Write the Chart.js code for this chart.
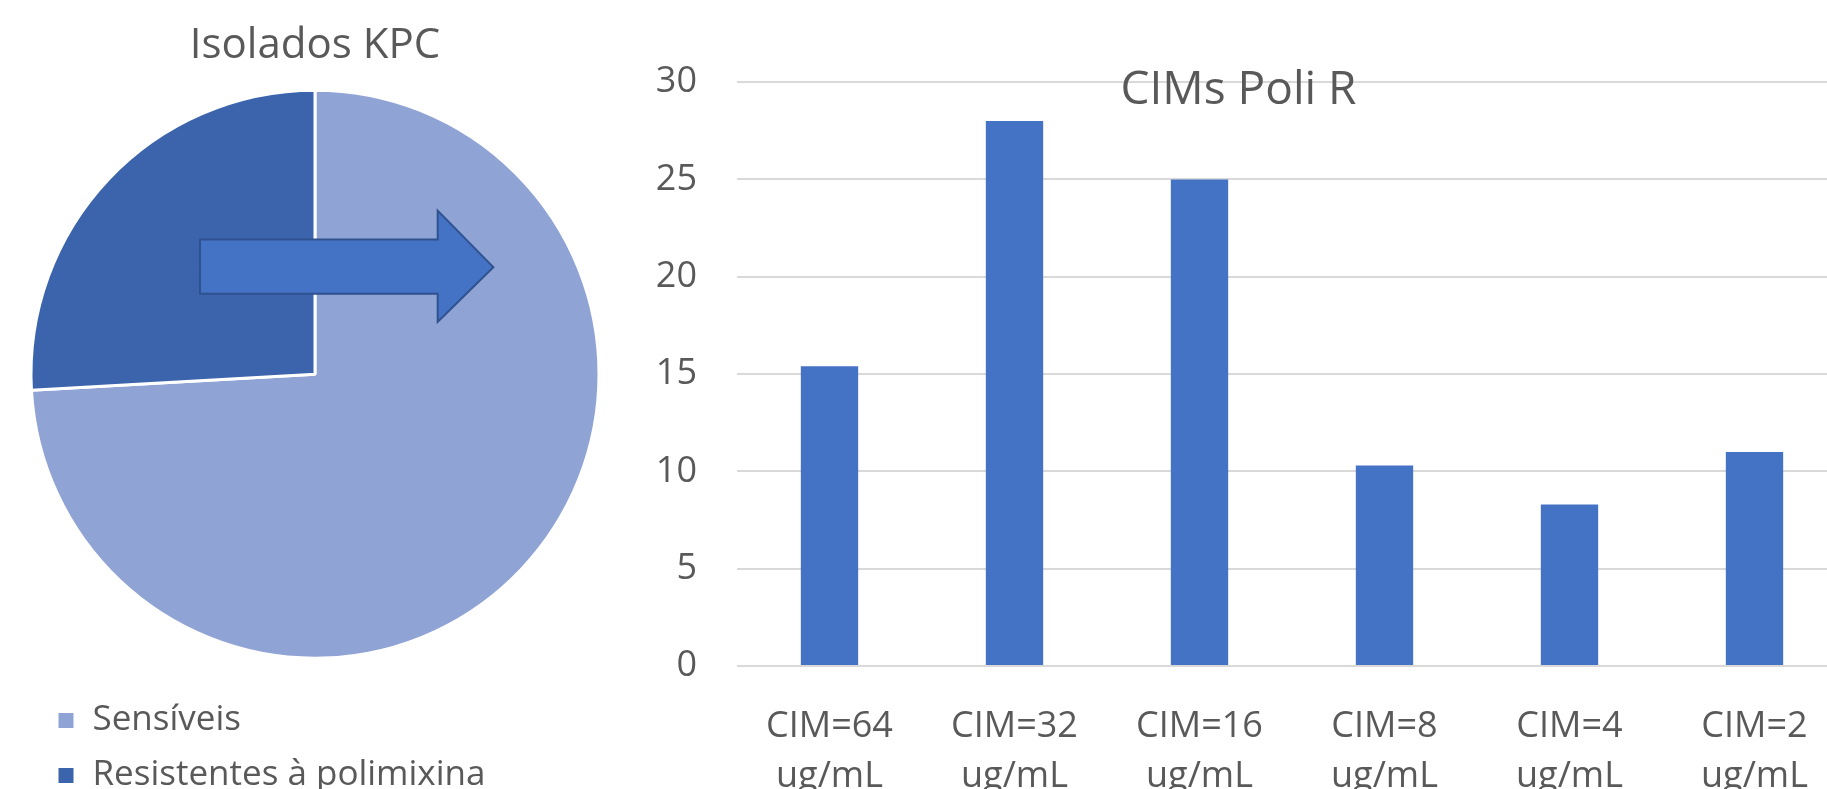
<!DOCTYPE html>
<html>
<head>
<meta charset="utf-8">
<script src="https://cdn.jsdelivr.net/npm/chart.js@4.4.0/dist/chart.umd.min.js"></script>
<style>
    html, body { margin: 0; padding: 0; background: #fff; overflow: hidden; }
    body { width: 1827px; height: 789px; position: relative; }
    #pieBox { position: absolute; left: 0; top: 0; width: 630px; height: 803px; }
    #barBox { position: absolute; left: 630px; top: 0; width: 1217px; height: 800px; }
</style>
</head>
<body>
<div id="pieBox"><canvas id="chartPie"></canvas></div>
<div id="barBox"><canvas id="chartBar"></canvas></div>
<script>
// torta
var pieLabels = ['Sensíveis', 'Resistentes à polimixina'];
var pieValues = [74.1, 25.9];
var pieColors = ['#8FA3D4', '#3C64AC'];

// barre
var barLabels = [['CIM=64', 'ug/mL'], ['CIM=32', 'ug/mL'], ['CIM=16', 'ug/mL'], ['CIM=8', 'ug/mL'], ['CIM=4', 'ug/mL'], ['CIM=2', 'ug/mL']];
var barValues = [15.4, 28, 25, 10.3, 8.3, 11];

var textColor = '#595959';
var fontName = "'Open Sans', 'Noto Sans', sans-serif";

Chart.defaults.font.family = fontName;
Chart.defaults.color = textColor;

// freccia sopra la torta, relativa al centro e al raggio
var arrowPlugin = {
    id: 'arrow',
    afterDatasetsDraw: function(chart) {
        var arc = chart.getDatasetMeta(0).data[0];
        if (!arc) return;
        var cx = arc.x, cy = arc.y, r = arc.outerRadius;
        var ctx = chart.ctx;
        ctx.save();
        ctx.beginPath();
        ctx.moveTo(cx - 0.405 * r, cy - 0.474 * r);
        ctx.lineTo(cx + 0.432 * r, cy - 0.474 * r);
        ctx.lineTo(cx + 0.432 * r, cy - 0.576 * r);
        ctx.lineTo(cx + 0.628 * r, cy - 0.377 * r);
        ctx.lineTo(cx + 0.432 * r, cy - 0.184 * r);
        ctx.lineTo(cx + 0.432 * r, cy - 0.283 * r);
        ctx.lineTo(cx - 0.405 * r, cy - 0.283 * r);
        ctx.closePath();
        ctx.fillStyle = '#4472C4';
        ctx.fill();
        ctx.lineWidth = 2;
        ctx.strokeStyle = '#2F528F';
        ctx.stroke();
        ctx.restore();
    }
};

var ctxPie = document.getElementById('chartPie').getContext('2d');
var pieChart = new Chart(ctxPie, {
    type: 'pie',
    data: {
        labels: pieLabels,
        datasets: [{
            data: pieValues,
            backgroundColor: pieColors,
            borderColor: '#ffffff',
            borderWidth: 3,
            clip: false
        }]
    },
    options: {
        responsive: true,
        maintainAspectRatio: false,
        animation: false,
        radius: 284,
        layout: { padding: { left: 37, right: 37, top: 0, bottom: 0 } },
        plugins: {
            title: {
                display: true,
                text: 'Isolados KPC',
                color: textColor,
                font: { size: 42, weight: 'normal' },
                padding: { top: 21, bottom: -6 }
            },
            legend: {
                display: true,
                position: 'bottom',
                align: 'start',
                labels: {
                    boxWidth: 18,
                    boxHeight: 18,
                    padding: 20,
                    color: textColor,
                    font: { size: 35 }
                }
            },
            tooltip: { enabled: false }
        }
    },
    plugins: [arrowPlugin]
});

var ctxBar = document.getElementById('chartBar').getContext('2d');
var barChart = new Chart(ctxBar, {
    type: 'bar',
    data: {
        labels: barLabels,
        datasets: [{
            label: 'CIMs Poli R',
            data: barValues,
            backgroundColor: '#4472C4',
            borderWidth: 0,
            categoryPercentage: 1,
            barPercentage: 0.31
        }]
    },
    options: {
        responsive: true,
        maintainAspectRatio: false,
        animation: false,
        layout: { padding: 0 },
        scales: {
            x: {
                grid: { display: false, drawTicks: false },
                border: { display: false },
                ticks: {
                    color: textColor,
                    font: { size: 36, lineHeight: 1.39 },
                    padding: 36,
                    maxRotation: 0,
                    autoSkip: false
                },
                afterFit: function(scale) { scale.height = 134; }
            },
            y: {
                min: 0,
                max: 30,
                grid: { color: '#D9D9D9', lineWidth: 2, drawTicks: false },
                border: { display: false },
                ticks: {
                    stepSize: 5,
                    color: textColor,
                    font: { size: 36 },
                    padding: 40
                },
                afterFit: function(scale) { scale.width = 107; }
            }
        },
        plugins: {
            legend: { display: false },
            tooltip: { enabled: false },
            title: {
                display: true,
                text: 'CIMs Poli R',
                color: textColor,
                font: { size: 46, weight: 'normal' },
                padding: { top: 63, bottom: -36 }
            }
        }
    }
});
</script>
</body>
</html>
